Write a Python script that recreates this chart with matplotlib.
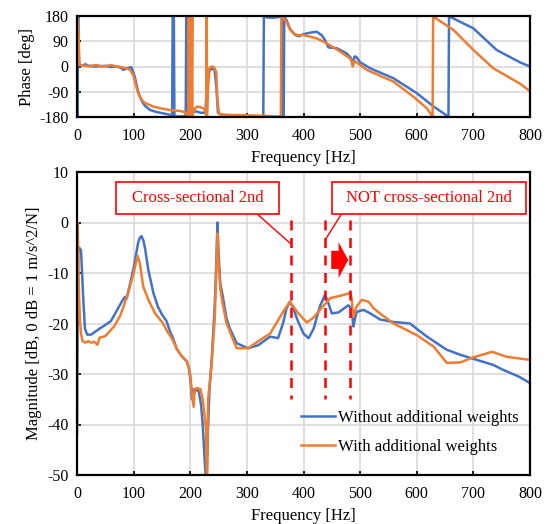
import matplotlib
matplotlib.use("Agg")
import matplotlib.pyplot as plt
from matplotlib.patches import Rectangle, Polygon

plt.rcParams['font.family'] = ['Liberation Serif', 'DejaVu Serif']
plt.rcParams['axes.unicode_minus'] = False
plt.rcParams['font.size'] = 12

BLUE = '#4472C4'
ORANGE = '#ED7D31'
RED = '#FF0000'
GRID = '#D9D9D9'

series_labels = ['Without additional weights', 'With additional weights']

# Magnitude (dB) -- without additional weights
mag_without_f = [0, 1, 2, 4, 7, 9, 11, 14, 18, 25, 30, 40, 50, 60, 70, 80, 85, 88, 92, 96,
                 100, 104, 108, 111, 114, 117, 120, 126, 135, 143, 150, 158, 165, 170, 176,
                 185, 194, 198, 201, 203, 205, 208, 212, 215, 219, 222, 225, 227, 229, 231,
                 234, 238, 243, 246, 248, 250, 253, 258, 264, 270, 282, 302, 320, 341, 355,
                 364, 370, 376, 382, 390, 400, 409, 418, 429, 438, 444, 450, 462, 479, 485,
                 488, 491, 494, 506, 518, 535, 559, 588, 618, 653, 677, 706, 735, 753, 780, 800]
mag_without_db = [-42, -20, -6, -5, -5.5, -10, -15, -21, -22.2, -22.2, -21.8, -21, -20.3, -19.5,
                  -17.5, -15.5, -14.7, -15, -13, -11, -9, -6.5, -4, -3, -2.7, -3.5, -5, -9.4,
                  -14, -16.7, -18.2, -19.5, -21.8, -23, -25, -26.5, -27.5, -29, -32, -35, -33,
                  -33.5, -33, -33.5, -36, -40, -46, -50, -50, -42, -33, -27, -17, -8, 0, -6,
                  -12, -15, -19, -21, -23.9, -24.9, -24.3, -22.6, -22.9, -19.9, -17, -15.7,
                  -17, -19.5, -22, -22.9, -21, -16.6, -14.3, -16, -18, -17.8, -16.4, -17,
                  -20.6, -19, -17.7, -17.3, -18, -19.2, -19.7, -20, -22.6, -25.2, -26.2,
                  -27.2, -28.2, -29.2, -30.5, -31.8]

# Magnitude (dB) -- with additional weights
mag_with_f = [0, 0.5, 1, 2, 3, 5, 7, 10, 15, 20, 25, 30, 36, 40, 50, 58, 66, 76, 82, 90, 95,
              100, 104, 107, 111, 117, 126, 138, 152, 160, 165, 170, 176, 185, 194, 200, 203,
              206, 208, 212, 218, 222, 226, 228, 229, 230, 231.5, 237, 243, 246, 248, 250,
              253, 256, 264, 276, 282, 302, 323, 341, 364, 376, 391, 406, 418, 429, 447, 465,
              482, 485, 488, 494, 503, 515, 524, 535, 559, 600, 630, 653, 677, 700, 733, 759, 800]
mag_with_db = [-40, -10, 0, -5, -12, -19, -22, -23.5, -23.8, -23.5, -23.8, -23.6, -24.2, -22.8,
               -22.5, -21.5, -20.5, -18.5, -16.7, -14, -12, -10, -8, -6.6, -8.1, -12.7, -15.3,
               -18, -20, -21.7, -22.5, -23.5, -25, -26.5, -27.5, -30, -34, -36.5, -33, -32.8,
               -33, -35, -39, -41, -50, -50, -35, -29, -19.5, -10, -2.2, -8, -13, -15.3,
               -19.9, -23.3, -24.9, -24.9, -23.3, -22, -17.7, -15.7, -18, -19.8, -18.8,
               -17.3, -15, -14.5, -14, -15, -18.6, -16.6, -15.3, -15.7, -17, -18, -20,
               -22.3, -24.6, -27.8, -27.7, -26.7, -25.6, -26.6, -27.2]

# Phase (deg), wrapped to [-180, 180] -- without additional weights
ph_without_f = [0, 1, 2, 3, 4, 10, 15, 20, 30, 50, 60, 70, 78, 82, 86, 90, 96, 102, 108, 111,
                115, 120, 129, 140, 152, 164, 168, 169, 171, 172, 176, 182, 190, 192, 193, 194,
                196, 200, 205, 210, 215, 220, 225, 227, 229, 232, 235, 240, 243, 246, 249, 255,
                270, 290, 310, 328, 329, 330, 335, 345, 355, 362, 363, 365, 366, 370, 376, 385,
                392, 400, 410, 423, 432, 438, 444, 459, 476, 484, 487, 490, 493, 500, 518, 559,
                600, 630, 656, 657, 700, 741, 783, 800]
ph_without_deg = [170, -180, 180, 60, 5, 3, 8, 2, 0, 2, -2, 0, -5, -12, -8, -5, -3, -36, -90,
                  -107, -125, -140, -155, -162, -167, -172, -179, 179, 178, -179, -178, -178,
                  -177, -179, 179, -179, -176, -170, -162, -160, -163, -165, -165, -150, -90,
                  -25, -12, -8, -12, -70, -165, -172, -175, -177, -177, -178, -179.5, 179, 175,
                  174, 176, 178, -179, -178, 179, 165, 135, 113, 108, 115, 120, 124, 112, 94,
                  68, 65, 47, 30, 5, 35, 35, 15, -6.5, -42, -95, -143, -179, 179, 136, 59, 14, 0]

# Phase (deg), wrapped to [-180, 180] -- with additional weights
ph_with_f = [0, 0.5, 1.5, 3, 4, 6, 10, 20, 35, 45, 60, 70, 80, 90, 95, 100, 105, 110, 115, 120,
             135, 150, 164, 180, 188, 195, 197, 197.5, 198, 199, 200, 201, 202, 203.5, 204,
             205, 208, 212, 218, 224, 227, 228.5, 229, 229.5, 231, 234, 238, 242, 246, 248,
             251, 260, 280, 300, 330, 358, 360, 361, 364, 370, 376, 384, 391, 400, 423, 441,
             465, 482, 485, 487, 490, 500, 512, 559, 594, 618, 628, 629, 665, 700, 735, 783, 800]
ph_with_deg = [0, 170, 160, 100, 10, 5, 3, 2, 5, 0, 5, 0, -3, -8, -15, -35, -75, -105, -120,
               -130, -143, -150, -155, -158, -161, -170, -179, 179, -179, 179, -179, 179, -179,
               179, -179, -165, -150, -143, -145, -150, -160, -179, 179, -179, -90, -5, 0, -3,
               -20, -120, -170, -172, -173, -174, -176, -178, -179.5, 179, 175, 158, 132, 115,
               112, 112, 100.5, 82.7, 53, 29, 20, 0, 20, 5, -12.4, -54, -107.6, -149, -179,
               178, 130, 59, -6, -62, -88]

freq_ticks = [0, 100, 200, 300, 400, 500, 600, 700, 800]
phase_ticks = [-180, -90, 0, 90, 180]
mag_ticks = [-50, -40, -30, -20, -10, 0, 10]

W, H = 545, 524
fig = plt.figure(figsize=(W / 100, H / 100), dpi=100)


def px_axes(left, top, right, bottom):
    return fig.add_axes([left / W, 1 - bottom / H, (right - left) / W, (bottom - top) / H])


def style(ax):
    ax.grid(True, color=GRID, linewidth=1.2)
    ax.set_axisbelow(True)
    for s in ax.spines.values():
        s.set_linewidth(1.6)
        s.set_color('black')
    ax.tick_params(direction='in', length=3, width=1.2, labelsize=11.5)
    ax.tick_params(axis='x', pad=8)
    ax.tick_params(axis='y', pad=6)


ax_ph = px_axes(77, 16, 530, 117)
ax_ph.plot(ph_without_f, ph_without_deg, color=BLUE, lw=1.8)
ax_ph.plot(ph_with_f, ph_with_deg, color=ORANGE, lw=1.8)
ax_ph.set_xlim(0, 800)
ax_ph.set_ylim(-180, 180)
ax_ph.set_xticks(freq_ticks)
ax_ph.set_yticks(phase_ticks)
ax_ph.set_ylabel('Phase [deg]', fontsize=12, labelpad=3)
ax_ph.set_xlabel('Frequency [Hz]', fontsize=12, labelpad=4)
style(ax_ph)

ax_m = px_axes(77, 172, 530, 475)
ax_m.plot(mag_without_f, mag_without_db, color=BLUE, lw=1.8, label=series_labels[0])
ax_m.plot(mag_with_f, mag_with_db, color=ORANGE, lw=1.8, label=series_labels[1])
ax_m.set_xlim(0, 800)
ax_m.set_ylim(-50, 10)
ax_m.set_xticks(freq_ticks)
ax_m.set_yticks(mag_ticks)
ax_m.set_ylabel('Magnitude [dB, 0 dB = 1 m/s^2/N]', fontsize=12, labelpad=4)
ax_m.set_xlabel('Frequency [Hz]', fontsize=12, labelpad=4)
style(ax_m)

# Mode markers: dashed verticals
for fx in (377.5, 438, 482):
    ax_m.plot([fx, fx], [0.5, -35], color=RED, lw=1.8, ls=(0, (4, 3)), zorder=4)

# Callout boxes
for (x0, x1, txt) in ((69, 357, 'Cross-sectional 2nd'), (450, 793, 'NOT cross-sectional 2nd')):
    ax_m.add_patch(Rectangle((x0, 1.7), x1 - x0, 6.3, facecolor='white', edgecolor=RED,
                             lw=1.2, zorder=5))
    ax_m.text((x0 + x1) / 2, 4.85, txt, color=RED, ha='center', va='center',
              fontsize=12, zorder=6)

# Callout leaders
ax_m.plot([320, 377.5], [1.5, -4.2], color=RED, lw=1.0, zorder=4)
ax_m.plot([466, 438], [1.5, -3.5], color=RED, lw=1.0, zorder=4)

# Block arrow pointing to higher frequency
ax_m.add_patch(Polygon([(449, -5.6), (462, -5.6), (462, -3.9), (479, -7.4),
                        (462, -11.0), (462, -9.2), (449, -9.2)],
                       closed=True, facecolor=RED, edgecolor='none', zorder=5))

leg = ax_m.legend(loc='center left', bbox_to_anchor=(0.462, 0.14), frameon=False,
                  fontsize=12, handlelength=2.0, handletextpad=0.2, labelspacing=0.8,
                  borderpad=0.4)

fig.savefig('out.png', dpi=100)
